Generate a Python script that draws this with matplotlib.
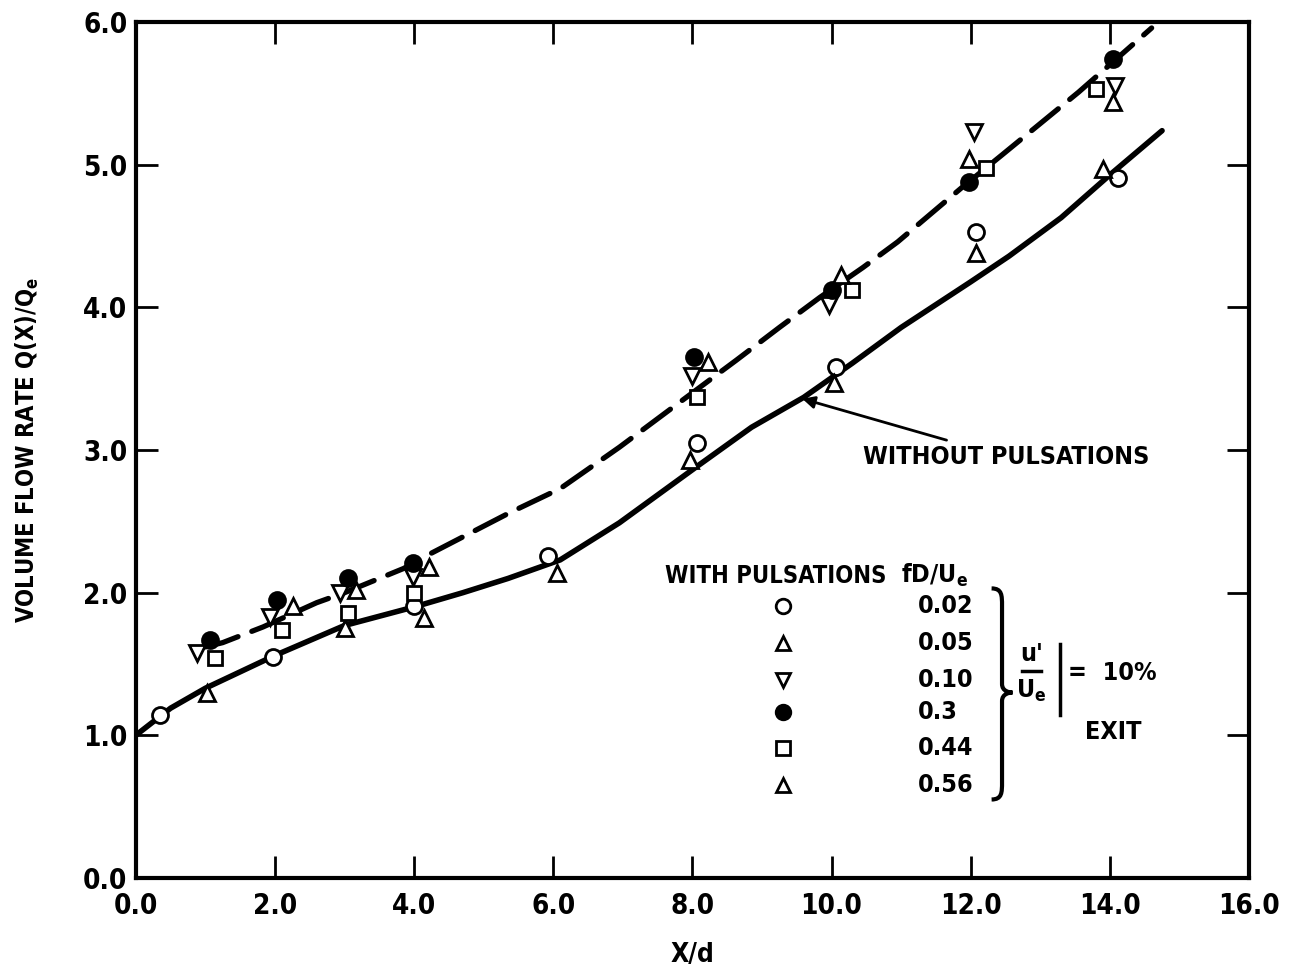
import numpy as np
import matplotlib
matplotlib.use("Agg")
import matplotlib.pyplot as plt
from matplotlib.path import Path
from matplotlib.patches import PathPatch

plt.rcParams['font.family'] = ['DejaVu Sans']
plt.rcParams['font.stretch'] = 'condensed'
plt.rcParams['font.weight'] = 'bold'
plt.rcParams['axes.labelweight'] = 'bold'
plt.rcParams['mathtext.default'] = 'regular'

# curve without pulsations (solid)
solid_x = [0.0, 0.5, 1.0, 2.0, 3.0, 4.0, 4.7, 5.35, 6.1, 6.95, 8.05, 8.85, 9.6, 10.3, 11.0, 12.0, 12.55, 13.3, 14.0, 14.75]
solid_y = [1.0, 1.19, 1.33, 1.56, 1.77, 1.90, 2.0, 2.10, 2.23, 2.49, 2.88, 3.16, 3.37, 3.61, 3.86, 4.18, 4.36, 4.63, 4.93, 5.24]

# curve with pulsations (dashed)
dash_x = [1.0, 1.25, 1.83, 2.6, 3.0, 3.4, 3.85, 4.22, 5.37, 6.1, 6.95, 7.72, 8.63, 9.25, 9.83, 10.45, 10.95, 11.87, 12.45, 13.55, 14.6]
dash_y = [1.62, 1.65, 1.76, 1.93, 2.0, 2.08, 2.17, 2.27, 2.56, 2.73, 3.02, 3.30, 3.63, 3.86, 4.07, 4.28, 4.46, 4.84, 5.07, 5.51, 5.96]

# fD/Ue = 0.02
f002_x = [0.35, 1.97, 4.0, 5.93, 8.06, 10.06, 12.08, 14.12]
f002_y = [1.14, 1.55, 1.91, 2.26, 3.05, 3.58, 4.53, 4.91]
# fD/Ue = 0.05
f005_x = [1.03, 3.0, 4.14, 6.06, 7.96, 10.03, 12.08, 13.9]
f005_y = [1.30, 1.75, 1.82, 2.14, 2.93, 3.47, 4.38, 4.97]
# fD/Ue = 0.10
f010_x = [0.88, 1.93, 2.93, 3.98, 7.99, 9.97, 12.05, 14.07]
f010_y = [1.58, 1.83, 2.0, 2.11, 3.52, 4.02, 5.23, 5.55]
# fD/Ue = 0.3
f03_x = [1.06, 2.03, 3.05, 3.98, 8.03, 10.0, 11.98, 14.04]
f03_y = [1.67, 1.95, 2.10, 2.21, 3.65, 4.12, 4.88, 5.74]
# fD/Ue = 0.44
f044_x = [1.14, 2.1, 3.05, 4.0, 8.06, 10.3, 12.22, 13.8]
f044_y = [1.54, 1.74, 1.86, 2.0, 3.37, 4.12, 4.98, 5.53]
# fD/Ue = 0.56
f056_x = [2.26, 3.17, 4.22, 8.22, 10.14, 11.98, 14.04]
f056_y = [1.91, 2.02, 2.18, 3.62, 4.23, 5.04, 5.44]

legend_labels = ['0.02', '0.05', '0.10', '0.3', '0.44', '0.56']
legend_markers = ['o', '^', 'v', 'o', 's', '^']
legend_filled = [False, False, False, True, False, False]

xticks = [0, 2, 4, 6, 8, 10, 12, 14, 16]
yticks = [0, 1, 2, 3, 4, 5, 6]

fig = plt.figure(figsize=(12.93, 9.69), dpi=100)
ax = fig.add_axes([0.105, 0.094, 0.861, 0.883])

ax.plot(solid_x, solid_y, color='black', lw=4, solid_capstyle='round', zorder=2)
ax.plot(dash_x, dash_y, color='black', lw=3.8, dashes=(6.5, 2.8), dash_capstyle='round', zorder=2)

ms = 11.5
mew = 2
series = [(f002_x, f002_y, 'o', False), (f005_x, f005_y, '^', False),
          (f010_x, f010_y, 'v', False), (f03_x, f03_y, 'o', True),
          (f044_x, f044_y, 's', False), (f056_x, f056_y, '^', False)]
for sx, sy, m, filled in series:
    ax.plot(sx, sy, ls='none', marker=m, ms=ms if m != 's' else 10.5, mew=mew,
            mec='black', mfc='black' if filled else 'white', zorder=3)

ax.set_xlim(0, 16)
ax.set_ylim(0, 6)
ax.set_xticks(xticks)
ax.set_yticks(yticks)
ax.set_xticklabels(['%.1f' % v for v in xticks])
ax.set_yticklabels(['%.1f' % v for v in yticks])
ax.tick_params(direction='in', length=16, width=2, labelsize=20,
               top=True, right=True, pad=6)
ax.tick_params(axis='x', pad=10)
for s in ax.spines.values():
    s.set_linewidth(3)

ax.set_xlabel('X/d', fontsize=19, labelpad=16)
ax.set_ylabel('VOLUME FLOW RATE Q(X)/Q$_e$', fontsize=17, labelpad=30)

# legend block
fs = 18
ax.text(7.6, 2.12, 'WITH PULSATIONS', fontsize=17, va='center', ha='left')
ax.text(11.0, 2.12, 'fD/U$_e$', fontsize=fs, va='center', ha='left')
leg_y = [1.91, 1.65, 1.39, 1.16, 0.91, 0.65]
for yy, lab, m, filled in zip(leg_y, legend_labels, legend_markers, legend_filled):
    ax.plot([9.30], [yy], ls='none', marker=m, ms=10.5 if m != 's' else 9.5, mew=mew,
            mec='black', mfc='black' if filled else 'white')
    ax.text(11.24, yy, lab, fontsize=fs, va='center', ha='left')

# brace
bx0, bx1, btip = 12.30, 12.45, 12.60
top, mid, bot = 2.03, 1.30, 0.55
verts = [(bx0, top), (bx1, top), (bx1, top - 0.05), (bx1, top - 0.12),
         (bx1, mid + 0.06),
         (bx1, mid + 0.01), (btip - 0.05, mid), (btip, mid),
         (btip - 0.05, mid), (bx1, mid - 0.01), (bx1, mid - 0.06),
         (bx1, bot + 0.12),
         (bx1, bot + 0.05), (bx1, bot), (bx0, bot)]
codes = [Path.MOVETO, Path.CURVE4, Path.CURVE4, Path.CURVE4,
         Path.LINETO,
         Path.CURVE4, Path.CURVE4, Path.CURVE4,
         Path.CURVE4, Path.CURVE4, Path.CURVE4,
         Path.LINETO,
         Path.CURVE4, Path.CURVE4, Path.CURVE4]
ax.add_patch(PathPatch(Path(verts, codes), fill=False, lw=3, ec='black'))

# u'/Ue | = 10%  EXIT
ax.text(12.87, 1.57, "u'", fontsize=fs, ha='center', va='center')
ax.plot([12.73, 13.01], [1.45, 1.45], color='black', lw=2.5)
ax.text(12.87, 1.31, 'U$_e$', fontsize=fs, ha='center', va='center')
ax.plot([13.29, 13.29], [1.14, 1.64], color='black', lw=2.5)
ax.text(13.40, 1.44, '=  10%', fontsize=fs, ha='left', va='center')
ax.text(13.64, 1.02, 'EXIT', fontsize=fs, ha='left', va='center')

# WITHOUT PULSATIONS arrow
ax.annotate('WITHOUT PULSATIONS', xy=(9.58, 3.36), xytext=(10.45, 2.95),
            fontsize=fs, ha='left', va='center',
            arrowprops=dict(arrowstyle='-|>', color='black', lw=2,
                            mutation_scale=18, shrinkA=6, shrinkB=0))

fig.savefig('out.png', dpi=100)
